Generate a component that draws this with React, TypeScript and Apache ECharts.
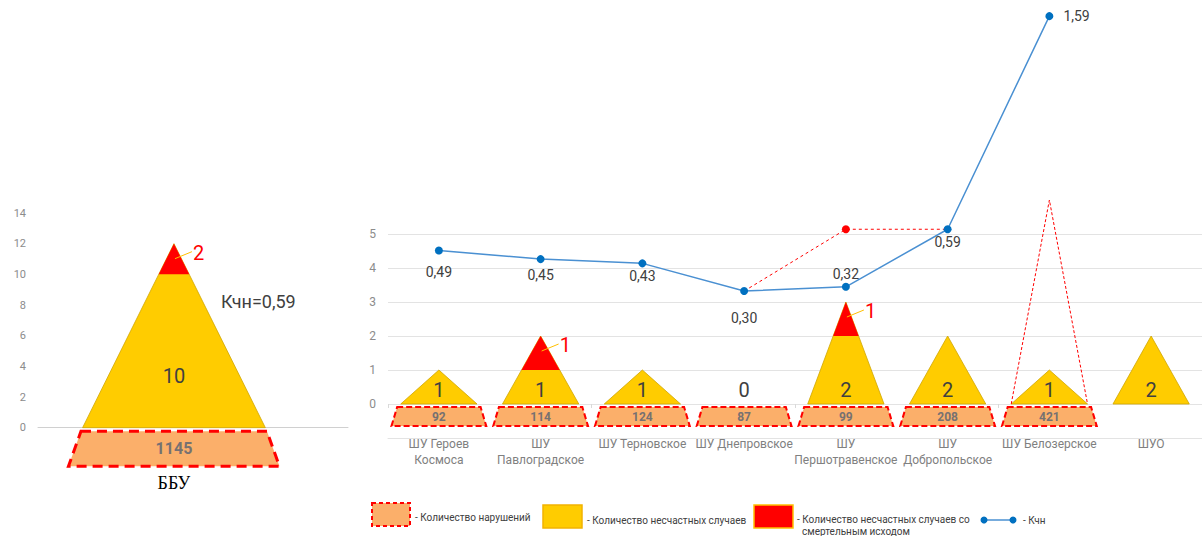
import { useEffect, useRef } from 'react';
import * as echarts from 'echarts';

// ---- data ----
const totalCategory = ['ББУ'];
const totalAccidents = [10];
const totalFatal = [2];
const totalViolations = [1145];
const totalKchn = 0.59;

const mineCategories = [
  'ШУ Героев Космоса',
  'ШУ Павлоградское',
  'ШУ Терновское',
  'ШУ Днепровское',
  'ШУ Першотравенское',
  'ШУ Добропольское',
  'ШУ Белозерское',
  'ШУО',
];
const accidents = [1, 1, 1, 0, 2, 2, 1, 2];
const fatalAccidents = [0, 1, 0, 0, 1, 0, 0, 0];
const violations: (number | null)[] = [92, 114, 124, 87, 99, 208, 421, null];
const outlineLevels = [0, 0, 0, 0, 0, 0, 6, 0];

const kchn: (number | null)[] = [0.49, 0.45, 0.43, 0.3, 0.32, 0.59, 1.59, null];
const kchnAdjusted: (number | null)[] = [null, null, null, 0.3, 0.59, 0.59, null, null];
const kchnLabelPlacement: [string, number][] = [
  ['bottom', 10],
  ['bottom', 5],
  ['bottom', 2],
  ['bottom', 16],
  ['top', 2],
  ['bottom', 2],
  ['right', 10],
  ['bottom', 0],
];

// ---- styling ----
const SANS = "Roboto, 'Noto Sans', sans-serif";
const SERIF = "'Liberation Serif', 'DejaVu Serif', serif";
const YELLOW = '#FFCC00';
const YELLOW_EDGE = '#CFA600';
const RED = '#FF0000';
const PEACH = '#FBAF6A';
const TEXT = '#404040';
const GRID_LINE = '#e3e3e3';

const decimal = (v: number) => v.toFixed(2).replace('.', ',');

const wrapName = (name: string) => {
  if (name.length <= 15) return name;
  const cut = name.lastIndexOf(' ');
  return name.slice(0, cut) + '\n' + name.slice(cut + 1);
};

type Geo = {
  triHalf: number;
  trapTopHalf: number;
  trapBottomHalf: number;
  trapTop: number;
  trapBottom: number;
  countLevel: number;
  countFont: number;
  violFont: number;
  dash: number[];
  dashWidth: number;
  note?: { text: string; level: number; dx: number };
  caption?: { level: number };
};

// Pyramid: violations trapezoid below zero, accidents triangle above it with
// the fatal share as the red tip.
function makePyramid(geo: Geo, names: string[]) {
  return (_params: any, api: any) => {
    const idx = api.value(0);
    const acc = api.value(1);
    const fatal = api.value(2);
    const viol = api.value(3);
    const outline = api.value(4);
    const total = acc + fatal;
    const unit = api.size([1, 0])[0];
    const [cx, y0] = api.coord([idx, 0]);
    const children: any[] = [];

    if (Number.isFinite(viol)) {
      const yT = api.coord([idx, geo.trapTop])[1];
      const yB = api.coord([idx, geo.trapBottom])[1];
      const ht = geo.trapTopHalf * unit;
      const hb = geo.trapBottomHalf * unit;
      children.push({
        type: 'polygon',
        shape: { points: [[cx - ht, yT], [cx + ht, yT], [cx + hb, yB], [cx - hb, yB]] },
        style: { fill: PEACH, stroke: RED, lineWidth: geo.dashWidth, lineDash: geo.dash },
      });
      children.push({
        type: 'text',
        x: cx,
        y: (yT + yB) / 2,
        style: {
          text: String(viol),
          fill: '#767171',
          font: `bold ${geo.violFont}px ${SANS}`,
          align: 'center',
          verticalAlign: 'middle',
        },
      });
    }

    const half = geo.triHalf * unit;
    if (total > 0) {
      const yApex = api.coord([idx, total])[1];
      children.push({
        type: 'polygon',
        shape: { points: [[cx - half, y0], [cx, yApex], [cx + half, y0]] },
        style: { fill: YELLOW, stroke: YELLOW_EDGE, lineWidth: 0.8 },
      });
      if (fatal > 0) {
        const yF = api.coord([idx, acc])[1];
        const hf = half * (fatal / total);
        children.push({
          type: 'polygon',
          shape: { points: [[cx - hf, yF], [cx, yApex], [cx + hf, yF]] },
          style: { fill: RED },
        });
        children.push({
          type: 'line',
          shape: { x1: cx + 1, y1: yApex + 15, x2: cx + 18, y2: yApex + 8 },
          style: { stroke: '#FFC000', lineWidth: 1 },
        });
        children.push({
          type: 'text',
          x: cx + 19,
          y: yApex + 9,
          style: { text: String(fatal), fill: RED, font: `20px ${SANS}`, verticalAlign: 'middle' },
        });
      }
    }

    children.push({
      type: 'text',
      x: cx,
      y: api.coord([idx, geo.countLevel])[1],
      style: {
        text: String(acc),
        fill: TEXT,
        font: `${geo.countFont}px ${SANS}`,
        align: 'center',
        verticalAlign: 'middle',
      },
    });

    if (outline > 0) {
      const yO = api.coord([idx, outline])[1];
      children.push({
        type: 'polyline',
        shape: { points: [[cx - half, y0], [cx, yO], [cx + half, y0]] },
        style: { stroke: RED, lineWidth: 1, lineDash: [3, 2], fill: null },
      });
    }

    if (geo.note) {
      children.push({
        type: 'text',
        x: cx + geo.note.dx,
        y: api.coord([idx, geo.note.level])[1],
        style: { text: geo.note.text, fill: TEXT, font: `18px ${SANS}`, verticalAlign: 'middle' },
      });
    }
    if (geo.caption) {
      children.push({
        type: 'text',
        x: cx,
        y: api.coord([idx, geo.caption.level])[1],
        style: {
          text: names[idx],
          fill: '#000',
          font: `18px ${SERIF}`,
          align: 'center',
          verticalAlign: 'middle',
        },
      });
    }
    return { type: 'group', children };
  };
}

const leftGeo: Geo = {
  triHalf: 0.336,
  trapTopHalf: 0.342,
  trapBottomHalf: 0.388,
  trapTop: -0.24,
  trapBottom: -2.52,
  countLevel: 3.4,
  countFont: 20,
  violFont: 16,
  dash: [10, 6],
  dashWidth: 3,
  note: { text: 'Кчн=' + decimal(totalKchn), level: 8.2, dx: 47 },
  caption: { level: -3.63 },
};

const rightGeo: Geo = {
  triHalf: 0.375,
  trapTopHalf: 0.41,
  trapBottomHalf: 0.466,
  trapTop: -0.09,
  trapBottom: -0.65,
  countLevel: 0.42,
  countFont: 20,
  violFont: 12,
  dash: [6, 3],
  dashWidth: 2,
};

const legendText = (text: string, x: number, y: number) => ({
  type: 'text',
  x,
  y,
  style: { text, fill: TEXT, font: `10px ${SANS}`, verticalAlign: 'middle' },
});

const option: any = {
  animation: false,
  backgroundColor: '#fff',
  grid: [
    { left: 38, top: 213, width: 310, height: 276 },
    { left: 388, top: 234, width: 816, height: 204 },
    { left: 388, top: 14, width: 816, height: 341 },
  ],
  xAxis: [
    {
      gridIndex: 0,
      type: 'value',
      min: -0.5,
      max: 0.64,
      axisLine: { onZero: true, lineStyle: { color: '#d0d0d0' } },
      axisTick: { show: false },
      axisLabel: { show: false },
      splitLine: { show: false },
    },
    {
      gridIndex: 1,
      type: 'category',
      data: mineCategories,
      axisLine: { onZero: false, lineStyle: { color: GRID_LINE } },
      axisTick: { show: false },
      axisLabel: {
        interval: 0,
        margin: -2,
        color: '#808080',
        fontSize: 12,
        lineHeight: 16,
        fontFamily: SANS,
        formatter: wrapName,
      },
    },
    { gridIndex: 2, type: 'category', data: mineCategories, show: false },
    // category boundary ticks on the zero line
    {
      gridIndex: 1,
      type: 'category',
      data: mineCategories,
      position: 'bottom',
      offset: -34,
      axisLine: { show: false, onZero: false },
      axisTick: { show: true, length: 4, lineStyle: { color: '#d9d9d9' } },
      axisLabel: { show: false },
      splitLine: { show: false },
    },
  ],
  yAxis: [
    {
      gridIndex: 0,
      type: 'value',
      min: -4,
      max: 14,
      interval: 2,
      axisLine: { show: false, onZero: false },
      axisTick: { show: false },
      splitLine: { show: false },
      axisLabel: {
        color: '#8c8c8c',
        fontSize: 11,
        margin: 12,
        fontFamily: SANS,
        formatter: (v: number) => (v < 0 ? '' : String(v)),
      },
    },
    {
      gridIndex: 1,
      type: 'value',
      min: -1,
      max: 5,
      interval: 1,
      axisLine: { show: false, onZero: false },
      axisTick: { show: false },
      splitLine: { lineStyle: { color: GRID_LINE } },
      axisLabel: {
        color: '#8c8c8c',
        fontSize: 12,
        margin: 12,
        fontFamily: SANS,
        formatter: (v: number) => (v < 0 ? '' : String(v)),
      },
    },
    { gridIndex: 2, type: 'value', min: 0, max: 1.6, show: false },
  ],
  series: [
    {
      type: 'custom',
      xAxisIndex: 0,
      yAxisIndex: 0,
      silent: true,
      clip: false,
      renderItem: makePyramid(leftGeo, totalCategory),
      encode: { x: 0, y: 1 },
      data: totalCategory.map((_, i) => [i, totalAccidents[i], totalFatal[i], totalViolations[i], 0]),
    },
    {
      type: 'custom',
      xAxisIndex: 1,
      yAxisIndex: 1,
      silent: true,
      clip: false,
      renderItem: makePyramid(rightGeo, mineCategories),
      encode: { x: 0, y: 1 },
      data: mineCategories.map((_, i) => [
        i,
        accidents[i],
        fatalAccidents[i],
        violations[i] == null ? NaN : violations[i],
        outlineLevels[i],
      ]),
    },
    {
      type: 'line',
      xAxisIndex: 2,
      yAxisIndex: 2,
      silent: true,
      data: kchnAdjusted.map((v) => (v == null ? '-' : v)),
      symbol: 'circle',
      symbolSize: (_v: any, p: any) => (kchnAdjusted[p.dataIndex] !== kchn[p.dataIndex] ? 8 : 0),
      lineStyle: { color: RED, width: 1, type: [3, 3] },
      itemStyle: { color: RED },
      z: 3,
    },
    {
      type: 'line',
      xAxisIndex: 2,
      yAxisIndex: 2,
      silent: true,
      data: kchn.map((v, i) =>
        v == null
          ? '-'
          : {
              value: v,
              label: { position: kchnLabelPlacement[i][0], distance: kchnLabelPlacement[i][1] },
            }
      ),
      symbol: 'circle',
      symbolSize: 8,
      lineStyle: { color: '#4A90D2', width: 1.5 },
      itemStyle: { color: '#0070C0' },
      label: {
        show: true,
        color: TEXT,
        fontSize: 14,
        fontFamily: SANS,
        formatter: (p: any) => decimal(p.value),
      },
      z: 4,
    },
  ],
  graphic: [
    {
      type: 'rect',
      shape: { x: 372, y: 503, width: 38, height: 23 },
      style: { fill: PEACH, stroke: RED, lineWidth: 2, lineDash: [4, 3] },
    },
    legendText('- Количество нарушений', 415, 517),
    {
      type: 'rect',
      shape: { x: 543, y: 505, width: 39, height: 23 },
      style: { fill: YELLOW, stroke: '#F2B300', lineWidth: 1.5 },
    },
    legendText('- Количество несчастных случаев', 587, 520),
    {
      type: 'rect',
      shape: { x: 754, y: 505, width: 39, height: 23 },
      style: { fill: RED, stroke: '#FFC000', lineWidth: 1.5 },
    },
    legendText('- Количество несчастных случаев со', 797, 519),
    legendText('смертельным исходом', 802, 531),
    {
      type: 'line',
      shape: { x1: 984, y1: 520, x2: 1013, y2: 520 },
      style: { stroke: '#4A90D2', lineWidth: 1.5 },
    },
    { type: 'circle', shape: { cx: 984, cy: 520, r: 3.5 }, style: { fill: '#0070C0' } },
    { type: 'circle', shape: { cx: 1013, cy: 520, r: 3.5 }, style: { fill: '#0070C0' } },
    legendText('- Кчн', 1023, 520),
  ],
};

export default function App() {
  const ref = useRef<HTMLDivElement>(null);
  useEffect(() => {
    const chart = echarts.init(ref.current!, null, { renderer: 'svg' });
    chart.setOption(option);
    return () => chart.dispose();
  }, []);
  return (
    <div
      ref={ref}
      style={{ position: 'absolute', left: 0, top: 0, width: 1202, height: 536, background: '#fff' }}
    />
  );
}
